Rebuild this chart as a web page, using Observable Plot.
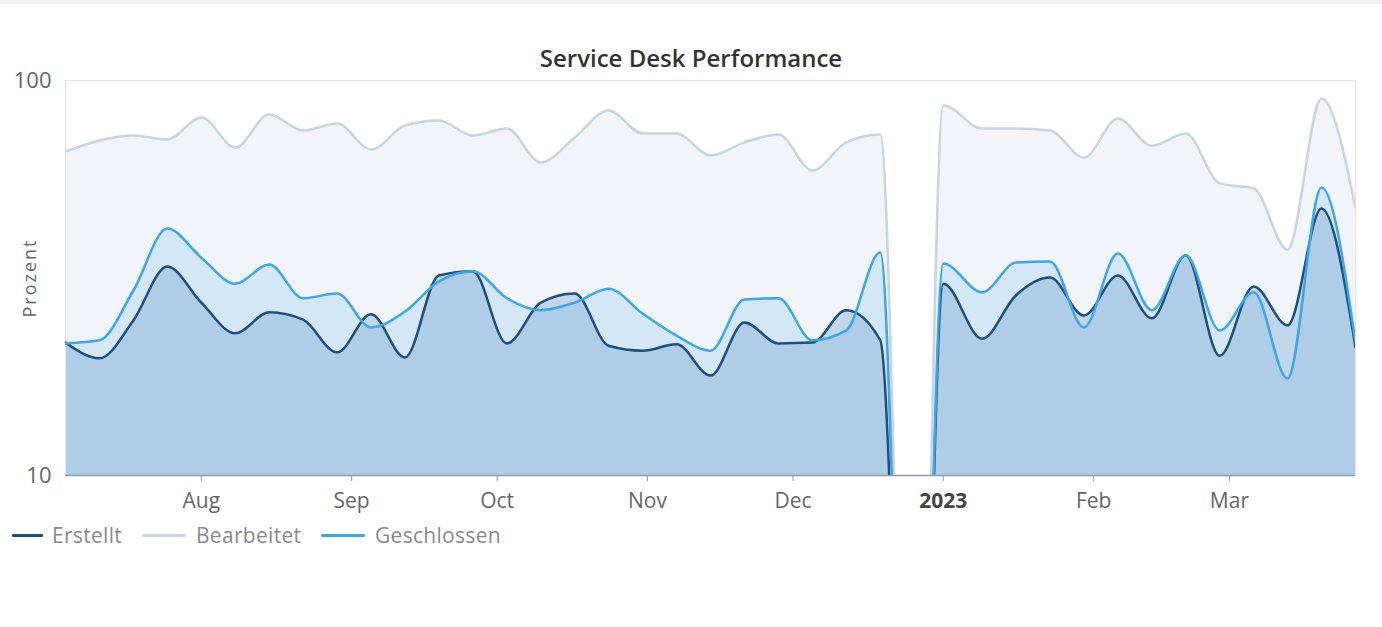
<!DOCTYPE html>
<html>
<head>
<meta charset="utf-8">
<script src="https://cdn.jsdelivr.net/npm/d3@7"></script>
<script src="https://cdn.jsdelivr.net/npm/@observablehq/plot@0.6"></script>
<style>
  html, body { margin: 0; padding: 0; background: #fff; }
  #wrap { position: relative; width: 1382px; height: 627px; overflow: hidden; font-family: "Open Sans", sans-serif; border-top: 4px solid #f1f1f1; box-sizing: border-box; }
  #title { height: 58px; box-sizing: border-box; padding-top: 42px; line-height: 24px; text-align: center; font-size: 24px; font-weight: 600; color: #333; }
  #chart svg { display: block; }
  #legend { position: relative; height: 26px; }
  .item { position: absolute; top: 0; height: 26px; line-height: 26px; font-size: 21px; letter-spacing: 0.3px; color: #8a8a8a; }
  .sw { position: absolute; top: 12px; height: 3px; border-radius: 1px; }
</style>
</head>
<body>
<div id="wrap">
  <div id="title">Service Desk Performance</div>
  <div id="chart"></div>
  <div id="legend"></div>
</div>
<script>
// ---- data (weekly values, percent) ----
const weeks = [
  "2022-07-04","2022-07-11","2022-07-18","2022-07-25","2022-08-01","2022-08-08","2022-08-15","2022-08-22","2022-08-29",
  "2022-09-05","2022-09-12","2022-09-19","2022-09-26","2022-10-03","2022-10-10","2022-10-17","2022-10-24","2022-10-31",
  "2022-11-07","2022-11-14","2022-11-21","2022-11-28","2022-12-05","2022-12-12","2022-12-19","2022-12-26",
  "2023-01-01","2023-01-09","2023-01-16","2023-01-23","2023-01-30","2023-02-06","2023-02-13","2023-02-20","2023-02-27",
  "2023-03-06","2023-03-13","2023-03-20","2023-03-27"
];
const erstellt = [
  21.7, 19.8, 24.7, 33.8, 27.4, 22.9, 25.9, 24.8, 20.5,
  25.6, 19.9, 32.1, 32.9, 21.6, 27.4, 28.9, 21.3, 20.7,
  21.5, 17.9, 24.4, 21.6, 21.7, 26.2, 22.0, 0,
  30.6, 22.2, 28.6, 31.7, 25.4, 32.1, 25.0, 36.1, 20.1,
  30.1, 24.0, 47.4, 21.1
];
const bearbeitet = [
  66.1, 70.5, 72.6, 70.9, 80.6, 67.7, 82.0, 74.7, 77.8,
  66.9, 76.9, 79.2, 72.6, 75.6, 62.0, 71.7, 84.0, 73.4,
  73.4, 64.6, 69.7, 73.0, 59.2, 69.7, 73.0, 0,
  86.5, 75.6, 75.6, 74.7, 63.8, 80.1, 68.4, 73.4, 54.9,
  53.3, 37.3, 90.0, 47.7
];
const geschlossen = [
  21.6, 22.0, 29.4, 42.2, 35.6, 30.6, 34.2, 28.1, 28.9,
  23.7, 26.0, 31.0, 32.9, 28.1, 26.2, 27.4, 29.7, 25.7,
  22.6, 20.7, 27.9, 28.1, 22.0, 23.3, 36.7, 0,
  34.4, 29.1, 34.6, 34.8, 23.7, 36.5, 26.2, 36.1, 23.3,
  29.1, 17.6, 53.6, 21.7
];
const seriesNames = ["Erstellt", "Bearbeitet", "Geschlossen"];
const seriesColors = ["#1f4e7a", "#c8d5de", "#3ea6e8"];
const xDomain = ["2022-07-04", "2023-03-27"];
const monthTicks = ["2022-08-01","2022-09-01","2022-10-01","2022-11-01","2022-12-01","2023-01-01","2023-02-01","2023-03-01"];
const monthLabels = ["Aug","Sep","Oct","Nov","Dec","2023","Feb","Mar"];
const yTicks = [10, 100];
const yDomain = [10, 100];

// ---- build table ----
const rows = weeks.map((w, i) => ({
  date: new Date(w), erstellt: erstellt[i], bearbeitet: bearbeitet[i], geschlossen: geschlossen[i]
}));
// a zero cannot sit on a log axis: draw it as a plunge below the axis (clipped)
const lg = v => Math.max(v, 0.3);
const labelOf = new Map(monthTicks.map((t, i) => [+new Date(t), monthLabels[i]]));
const regTicks = monthTicks.filter((t, i) => monthLabels[i] !== "2023").map(t => new Date(t));
const boldTicks = monthTicks.filter((t, i) => monthLabels[i] === "2023").map(t => new Date(t));
const cv = "monotone-x";

const chart = Plot.plot({
  width: 1382, height: 460,
  marginTop: 18, marginRight: 27, marginBottom: 47, marginLeft: 65,
  x: { type: "utc", domain: xDomain.map(d => new Date(d)), axis: null },
  y: { type: "log", domain: yDomain, axis: null },
  style: { fontFamily: "'Open Sans', sans-serif", background: "transparent", overflow: "visible" },
  marks: [
    Plot.areaY(rows, { x: "date", y1: () => 10, y2: d => lg(d.bearbeitet), curve: cv, fill: "#f1f5f9", clip: true }),
    Plot.areaY(rows, { x: "date", y1: () => 10, y2: d => lg(d.geschlossen), curve: cv, fill: "#3fa5e5", fillOpacity: 0.17, clip: true }),
    Plot.areaY(rows, { x: "date", y1: () => 10, y2: d => lg(d.erstellt), curve: cv, fill: "#7aa7cf", fillOpacity: 0.4, clip: true }),
    Plot.frame({ stroke: "#e2e5e9" }),
    Plot.lineY(rows, { x: "date", y: d => lg(d.bearbeitet), curve: cv, stroke: seriesColors[1], strokeWidth: 2.5, clip: true }),
    Plot.lineY(rows, { x: "date", y: d => lg(d.erstellt), curve: cv, stroke: seriesColors[0], strokeWidth: 2.5, clip: true }),
    Plot.lineY(rows, { x: "date", y: d => lg(d.geschlossen), curve: cv, stroke: seriesColors[2], strokeWidth: 2.5, clip: true }),
    Plot.ruleY([10], { stroke: "#8e9aa8", strokeWidth: 1.5 }),
    Plot.axisY(yTicks, { tickSize: 0, tickPadding: 14, fontSize: 22, fill: "#666", tickFormat: d => String(d), label: null }),
    Plot.axisX(regTicks, { tickSize: 6, tickPadding: 12, fontSize: 21, fill: "#666", stroke: "#8e9aa8", tickFormat: d => labelOf.get(+d), label: null }),
    Plot.axisX(boldTicks, { tickSize: 6, tickPadding: 12, fontSize: 21, fontWeight: "bold", fill: "#444", stroke: "#8e9aa8", tickFormat: d => labelOf.get(+d), label: null }),
    Plot.text(["Prozent"], { text: d => d, frameAnchor: "left", textAnchor: "middle", dx: -35, rotate: -90, fontSize: 18, fill: "#666" })
  ]
});
document.getElementById("chart").appendChild(chart);
d3.select(chart).selectAll("text").filter(function () { return this.textContent === "Prozent"; })
  .attr("letter-spacing", "2");

// ---- legend ----
const legendPos = [
  { sw: 12, w: 31, tx: 52 },
  { sw: 142, w: 44, tx: 196 },
  { sw: 321, w: 44, tx: 375 }
];
const legend = document.getElementById("legend");
seriesNames.forEach((name, i) => {
  const sw = document.createElement("div");
  sw.className = "sw";
  sw.style.left = legendPos[i].sw + "px";
  sw.style.width = legendPos[i].w + "px";
  sw.style.background = seriesColors[i];
  legend.appendChild(sw);
  const t = document.createElement("div");
  t.className = "item";
  t.style.left = legendPos[i].tx + "px";
  t.textContent = name;
  legend.appendChild(t);
});
</script>
</body>
</html>
